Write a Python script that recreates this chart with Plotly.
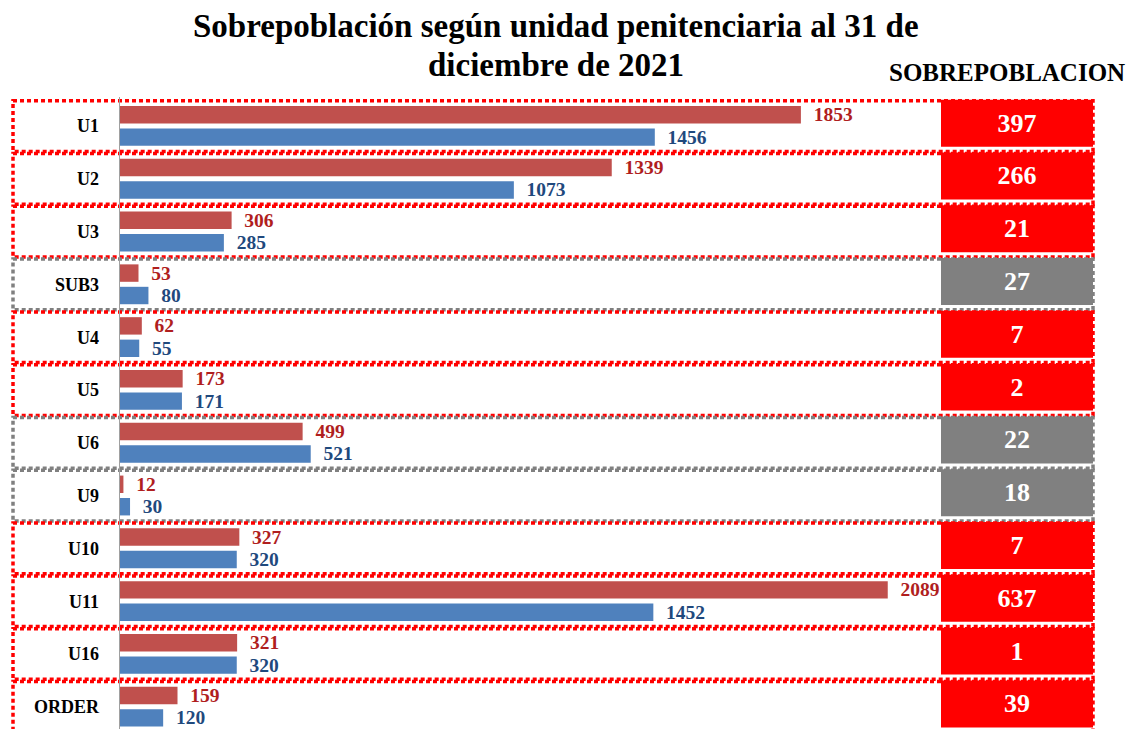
import plotly.graph_objects as go

unidades = ["U1", "U2", "U3", "SUB3", "U4", "U5", "U6", "U9", "U10", "U11", "U16", "ORDER"]
poblacion = [1853, 1339, 306, 53, 62, 173, 499, 12, 327, 2089, 321, 159]
capacidad = [1456, 1073, 285, 80, 55, 171, 521, 30, 320, 1452, 320, 120]
sobrepoblacion = [397, 266, 21, 27, 7, 2, 22, 18, 7, 637, 1, 39]
titulo = ["Sobrepoblación según unidad penitenciaria al 31 de", "diciembre de 2021"]

SERIF = "Liberation Serif, Times New Roman, serif"
RED_BAR = "#C0504D"
BLUE_BAR = "#4F81BD"
RED_TXT = "#B01E1E"
BLUE_TXT = "#1F497D"

# red when population exceeds capacity, grey otherwise
estado = ["#FF0000" if p > c else "#808080" for p, c in zip(poblacion, capacidad)]

# the page has an 8px body margin, so the figure is a bit smaller than the window
OFF = 8
W, H = 1139 - OFF, 729 - OFF
TOP, BOTTOM = 89, 0
PLOT_H = H - TOP - BOTTOM
PX_PER_UNIT = 0.368


def px_x(page_x):
    return (page_x - OFF) / W


def px_y(page_y):
    return (H - BOTTOM - (page_y - OFF)) / PLOT_H


x_dom = [px_x(119), px_x(941)]
x_max = (x_dom[1] - x_dom[0]) * W / PX_PER_UNIT

fig = go.Figure()

fig.add_trace(go.Bar(
    y=unidades, x=poblacion, orientation="h",
    marker=dict(color=RED_BAR, line=dict(width=0)),
    width=0.33, offset=-0.38,
    texttemplate="\u00a0\u00a0%{x}", textposition="outside",
    textfont=dict(family=SERIF, size=19.5, color=RED_TXT, weight="bold"),
    constraintext="none", cliponaxis=False,
    name="Población",
))

fig.add_trace(go.Bar(
    y=unidades, x=capacidad, orientation="h",
    marker=dict(color=BLUE_BAR, line=dict(width=0)),
    width=0.33, offset=0.045,
    texttemplate="\u00a0\u00a0%{x}", textposition="outside",
    textfont=dict(family=SERIF, size=19.5, color=BLUE_TXT, weight="bold"),
    constraintext="none", cliponaxis=False,
    name="Capacidad",
))

# overpopulation boxes on the right
fig.add_trace(go.Bar(
    y=unidades, x=[1] * len(unidades), orientation="h",
    xaxis="x2",
    marker=dict(color=estado, line=dict(width=0)),
    width=0.89, offset=-0.5,
    text=[str(v) for v in sobrepoblacion], textposition="inside",
    insidetextanchor="middle",
    textfont=dict(family=SERIF, size=26, color="white", weight="bold"),
    constraintext="none",
    hoverinfo="skip",
))

# dotted frame around each row
shapes = []
inset = 0.02
for i, c in enumerate(estado):
    shapes.append(dict(
        type="rect", xref="paper", yref="y",
        x0=px_x(13), x1=px_x(1093),
        y0=i - 0.5 + inset, y1=i + 0.5 - inset,
        line=dict(color=c, width=3.5, dash="4px,3px"),
        layer="below",
    ))

annotations = []
for linea, top in zip(titulo, [6, 45]):
    annotations.append(dict(
        text=f"<b>{linea}</b>", xref="paper", yref="paper",
        x=px_x(556), y=px_y(top),
        xanchor="center", yanchor="top", showarrow=False,
        font=dict(family=SERIF, size=33, color="black"),
    ))
annotations.append(dict(
    text="<b>SOBREPOBLACION</b>", xref="paper", yref="paper",
    x=px_x(1007), y=px_y(72),
    xanchor="center", yanchor="middle", showarrow=False,
    font=dict(family=SERIF, size=25, color="black"),
))

fig.update_layout(
    width=W, height=H,
    paper_bgcolor="white", plot_bgcolor="white",
    margin=dict(l=0, r=0, t=TOP, b=BOTTOM),
    barmode="overlay",
    showlegend=False,
    shapes=shapes,
    annotations=annotations,
    xaxis=dict(
        domain=x_dom, range=[0, x_max],
        showgrid=False, zeroline=False, showticklabels=False,
        showline=False, fixedrange=True,
    ),
    xaxis2=dict(
        domain=[px_x(941), px_x(1093)], range=[0, 1], anchor="y",
        showgrid=False, zeroline=False, showticklabels=False, showline=False,
    ),
    yaxis=dict(
        range=[11.42, -0.55],
        showgrid=False, zeroline=False,
        showline=False,
        ticks="", ticklabelstandoff=19,
        tickfont=dict(family=SERIF, size=18, color="black", weight="bold"),
    ),
)

# vertical axis line at zero
fig.add_vline(x=0, line=dict(color="#A0A0A0", width=2), layer="above")

fig.write_html("out.html")
